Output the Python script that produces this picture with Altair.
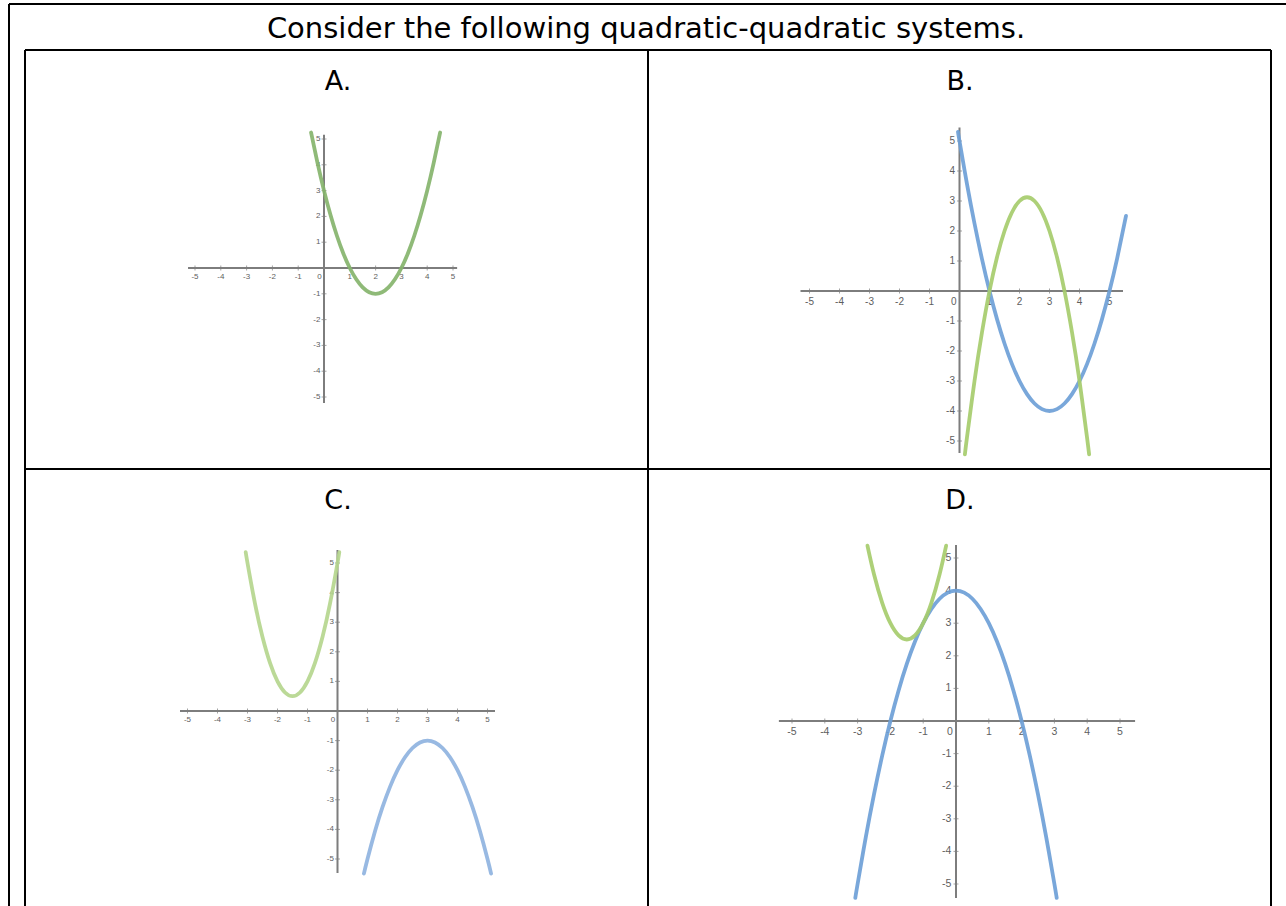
import altair as alt
import pandas as pd

# ---- text ----
TITLE = "Consider the following quadratic-quadratic systems."
PANEL_LABELS = ["A.", "B.", "C.", "D."]
TICK_VALUES = [-5, -4, -3, -2, -1, 1, 2, 3, 4, 5]

# ---- curves (x, y) ----
# A: y = (x - 2)^2 - 1
A_GREEN_X = [-0.5, -0.25, 0, 0.25, 0.5, 0.75, 1, 1.25, 1.5, 1.75, 2, 2.25, 2.5, 2.75, 3, 3.25, 3.5, 3.75, 4, 4.25, 4.5]
A_GREEN_Y = [5.25, 4.0625, 3, 2.0625, 1.25, 0.5625, 0, -0.4375, -0.75, -0.9375, -1, -0.9375, -0.75, -0.4375, 0, 0.5625, 1.25, 2.0625, 3, 4.0625, 5.25]

# B: y = (x - 3)^2 - 4  and  y = -2(x - 1)(x - 3.5)
B_BLUE_X = [-0.05, 0, 0.25, 0.5, 0.75, 1, 1.25, 1.5, 1.75, 2, 2.25, 2.5, 2.75, 3, 3.25, 3.5, 3.75, 4, 4.25, 4.5, 4.75, 5, 5.25, 5.55]
B_BLUE_Y = [5.3025, 5, 3.5625, 2.25, 1.0625, 0, -0.9375, -1.75, -2.4375, -3, -3.4375, -3.75, -3.9375, -4, -3.9375, -3.75, -3.4375, -3, -2.4375, -1.75, -0.9375, 0, 1.0625, 2.5025]
B_GREEN_X = [0.18, 0.25, 0.5, 0.75, 1, 1.25, 1.5, 1.75, 2, 2.25, 2.5, 2.75, 3, 3.25, 3.5, 3.75, 4, 4.25, 4.32]
B_GREEN_Y = [-5.4448, -4.875, -3, -1.375, 0, 1.125, 2, 2.625, 3, 3.125, 3, 2.625, 2, 1.125, 0, -1.375, -3, -4.875, -5.4448]

# C: y = 2(x + 1.5)^2 + 0.5  and  y = -(x - 3)^2 - 1
C_GREEN_X = [-3.06, -3, -2.75, -2.5, -2.25, -2, -1.75, -1.5, -1.25, -1, -0.75, -0.5, -0.25, 0, 0.06]
C_GREEN_Y = [5.3672, 5, 3.625, 2.5, 1.625, 1, 0.625, 0.5, 0.625, 1, 1.625, 2.5, 3.625, 5, 5.3672]
C_BLUE_X = [0.88, 1, 1.25, 1.5, 1.75, 2, 2.25, 2.5, 2.75, 3, 3.25, 3.5, 3.75, 4, 4.25, 4.5, 4.75, 5, 5.12]
C_BLUE_Y = [-5.4944, -5, -4.0625, -3.25, -2.5625, -2, -1.5625, -1.25, -1.0625, -1, -1.0625, -1.25, -1.5625, -2, -2.5625, -3.25, -4.0625, -5, -5.4944]

# D: y = 4 - x^2  and  y = 2(x + 1.5)^2 + 2.5
D_BLUE_X = [-3.07, -3, -2.75, -2.5, -2.25, -2, -1.75, -1.5, -1.25, -1, -0.75, -0.5, -0.25, 0, 0.25, 0.5, 0.75, 1, 1.25, 1.5, 1.75, 2, 2.25, 2.5, 2.75, 3, 3.07]
D_BLUE_Y = [-5.4249, -5, -3.5625, -2.25, -1.0625, 0, 0.9375, 1.75, 2.4375, 3, 3.4375, 3.75, 3.9375, 4, 3.9375, 3.75, 3.4375, 3, 2.4375, 1.75, 0.9375, 0, -1.0625, -2.25, -3.5625, -5, -5.4249]
D_GREEN_X = [-2.7, -2.5, -2.25, -2, -1.75, -1.5, -1.25, -1, -0.75, -0.5, -0.3]
D_GREEN_Y = [5.38, 4.5, 3.625, 3, 2.625, 2.5, 2.625, 3, 3.625, 4.5, 5.38]

GREEN_DARK = "#86b46c"
GREEN = "#a6cc6c"
GREEN_PALE = "#b5d68e"
BLUE = "#6e9fd7"
BLUE_PALE = "#8fb3e0"

# placement of each small coordinate plane (pixel ranges for -5..5)
GRAPHS = [
    dict(xr=[195.0, 453.0], yr=[397.0, 139.0], xext=[-5.27, 5.16], yext=[-5.23, 5.16], fs=8,
         curves=[(A_GREEN_X, A_GREEN_Y, GREEN_DARK)]),
    dict(xr=[809.5, 1109.5], yr=[441.0, 141.0], xext=[-5.3, 5.45], yext=[-5.4, 5.45], fs=10,
         curves=[(B_BLUE_X, B_BLUE_Y, BLUE), (B_GREEN_X, B_GREEN_Y, GREEN)]),
    dict(xr=[187.5, 487.5], yr=[859.0, 563.0], xext=[-5.25, 5.25], yext=[-5.47, 5.44], fs=8,
         curves=[(C_GREEN_X, C_GREEN_Y, GREEN_PALE), (C_BLUE_X, C_BLUE_Y, BLUE_PALE)]),
    dict(xr=[792.0, 1120.0], yr=[884.0, 558.0], xext=[-5.4, 5.46], yext=[-5.43, 5.4], fs=10.5,
         curves=[(D_BLUE_X, D_BLUE_Y, BLUE), (D_GREEN_X, D_GREEN_Y, GREEN)]),
]

W, H = 1286, 906
AXIS_GRAY = "#7d7d7d"
LABEL_GRAY = "#5e5e5e"


def plane_layers(g):
    sx = alt.Scale(domain=[-5, 5], range=g["xr"], nice=False, zero=False)
    sy = alt.Scale(domain=[-5, 5], range=g["yr"], nice=False, zero=False)
    fs = g["fs"]
    layers = []

    axes = pd.DataFrame({
        "x": [g["xext"][0], 0], "x2": [g["xext"][1], 0],
        "y": [0, g["yext"][0]], "y2": [0, g["yext"][1]],
    })
    layers.append(
        alt.Chart(axes).mark_rule(color=AXIS_GRAY, strokeWidth=2).encode(
            x=alt.X("x:Q", scale=sx, axis=None), x2="x2:Q",
            y=alt.Y("y:Q", scale=sy, axis=None), y2="y2:Q",
        )
    )

    xt = pd.DataFrame({"v": TICK_VALUES, "z": [0] * len(TICK_VALUES), "t": [str(v) for v in TICK_VALUES]})
    layers.append(
        alt.Chart(xt).mark_tick(orient="vertical", size=5, thickness=1, color=AXIS_GRAY).encode(
            x=alt.X("v:Q", scale=sx, axis=None), y=alt.Y("z:Q", scale=sy, axis=None)
        )
    )
    layers.append(
        alt.Chart(xt).mark_tick(orient="horizontal", size=5, thickness=1, color=AXIS_GRAY).encode(
            x=alt.X("z:Q", scale=sx, axis=None), y=alt.Y("v:Q", scale=sy, axis=None)
        )
    )
    layers.append(
        alt.Chart(xt).mark_text(fontSize=fs, font="Liberation Sans", color=LABEL_GRAY,
                                baseline="top", dy=fs * 0.6).encode(
            x=alt.X("v:Q", scale=sx, axis=None), y=alt.Y("z:Q", scale=sy, axis=None), text="t:N"
        )
    )
    layers.append(
        alt.Chart(xt).mark_text(fontSize=fs, font="Liberation Sans", color=LABEL_GRAY,
                                baseline="middle", align="right", dx=-fs * 0.45).encode(
            x=alt.X("z:Q", scale=sx, axis=None), y=alt.Y("v:Q", scale=sy, axis=None), text="t:N"
        )
    )
    origin = pd.DataFrame({"x": [0], "y": [0], "t": ["0"]})
    layers.append(
        alt.Chart(origin).mark_text(fontSize=fs, font="Liberation Sans", color=LABEL_GRAY,
                                    baseline="top", align="right", dx=-fs * 0.3, dy=fs * 0.6).encode(
            x=alt.X("x:Q", scale=sx, axis=None), y=alt.Y("y:Q", scale=sy, axis=None), text="t:N"
        )
    )

    for xs, ys, col in g["curves"]:
        df = pd.DataFrame({"x": xs, "y": ys})
        layers.append(
            alt.Chart(df).mark_line(color=col, strokeWidth=3.8, interpolate="natural",
                                    strokeCap="round", opacity=0.92).encode(
                x=alt.X("x:Q", scale=sx, axis=None), y=alt.Y("y:Q", scale=sy, axis=None)
            )
        )
    return layers


# ---- table frame ----
frame_h = pd.DataFrame({"x": [9, 25, 25], "x2": [W, 1271, 1271], "y": [4, 50, 469]})
frame_v = pd.DataFrame({"x": [9, 25, 648, 1271], "y": [4, 50, 50, 50]})

frame_layers = [
    alt.Chart(frame_h).mark_rule(color="#000000", strokeWidth=2).encode(
        x=alt.X("x:Q", scale=alt.Scale(domain=[0, W], range=[0, W]), axis=None),
        x2="x2:Q",
        y=alt.Y("y:Q", scale=alt.Scale(domain=[0, H], range=[0, H]), axis=None),
    ),
    alt.Chart(frame_v).mark_rule(color="#000000", strokeWidth=2).encode(
        x=alt.X("x:Q", scale=alt.Scale(domain=[0, W], range=[0, W]), axis=None),
        y=alt.Y("y:Q", scale=alt.Scale(domain=[0, H], range=[0, H]), axis=None),
        y2=alt.value(H),
    ),
]

TEXT_FONT = "Comic Sans MS, DejaVu Sans"
title_df = pd.DataFrame({"t": [TITLE]})
label_df = pd.DataFrame({
    "t": PANEL_LABELS,
    "cx": [338, 960, 338, 960],
    "cy": [90, 90, 509, 509],
})

text_layers = [
    alt.Chart(title_df).mark_text(font=TEXT_FONT, fontSize=29, color="#000000",
                                  baseline="alphabetic", align="center").encode(
        x=alt.value(646), y=alt.value(38), text="t:N"
    ),
    alt.Chart(label_df).mark_text(font=TEXT_FONT, fontSize=27, color="#000000",
                                  baseline="alphabetic", align="center").encode(
        x=alt.X("cx:Q", scale=alt.Scale(domain=[0, W], range=[0, W]), axis=None),
        y=alt.Y("cy:Q", scale=alt.Scale(domain=[0, H], range=[0, H]), axis=None),
        text="t:N",
    ),
]

all_layers = []
for g in GRAPHS:
    all_layers.extend(plane_layers(g))
all_layers.extend(frame_layers)
all_layers.extend(text_layers)

chart = alt.layer(*all_layers).resolve_scale(
    x="independent", y="independent"
).properties(
    width=W, height=H, padding=0, autosize=alt.AutoSizeParams(type="none"),
    background="#ffffff",
).configure_view(stroke=None)

chart.save("out.html", embed_options={"renderer": "svg", "actions": False})
